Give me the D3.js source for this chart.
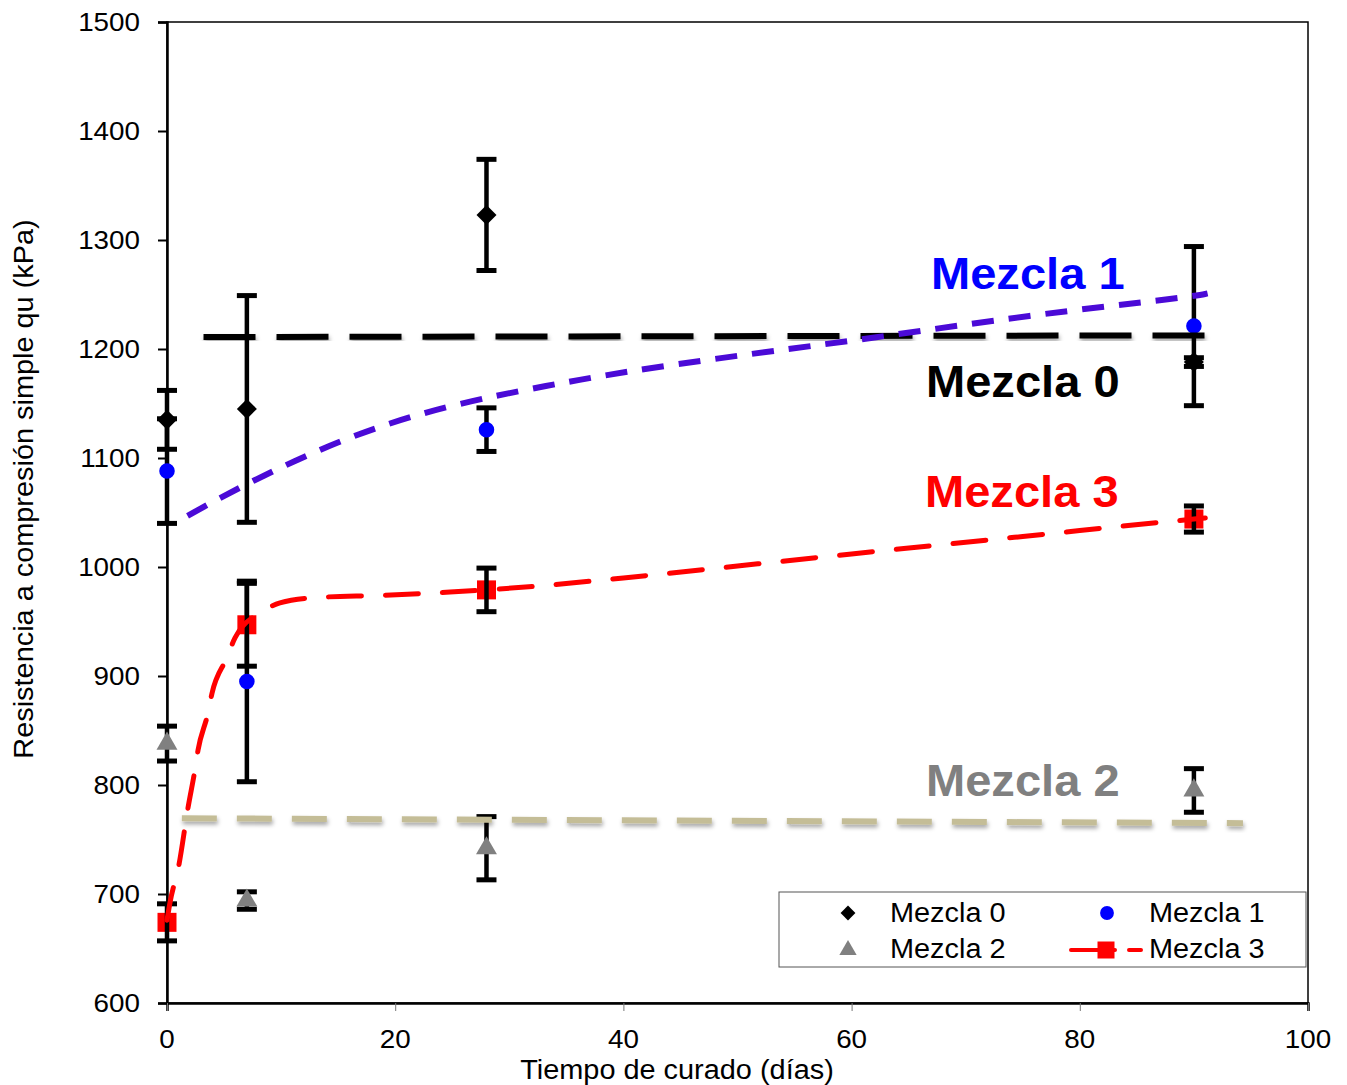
<!DOCTYPE html>
<html>
<head>
<meta charset="utf-8">
<script src="https://cdnjs.cloudflare.com/ajax/libs/d3/7.8.5/d3.min.js"></script>
<style>
  body { margin: 0; background: #fff; }
  svg text { font-family: "Liberation Sans", Arial, sans-serif; }
</style>
</head>
<body>
<svg id="chart" width="1347" height="1085"></svg>
<script>
// measured values (kPa) at each curing age
var days = [0, 7, 28, 90];
var mezcla0 = [1135, 1145, 1323, 1188];
var err0 = [27, 104, 51, 4];
var mezcla1 = [1088, 895, 1126, 1221];
var err1 = [48, 92, 20, 73];
var mezcla2 = [838, 694, 742, 795];
var err2 = [16, 8, 29, 20];
var mezcla3 = [674, 947, 979, 1044];
var err3 = [17, 38, 20, 12];

// trend lines, points [day, kPa]
var trend0 = [[3.2, 1211], [91.5, 1212.5]];
var trend1 = [[1.8, 1047], [7, 1077], [16, 1121], [24.8, 1149], [33.6, 1167], [40, 1179],
              [50, 1194], [61.9, 1210], [75.4, 1231], [89.9, 1248], [91.2, 1251]];
var trend2 = [[1.3, 769.5], [94.3, 765]];
var trend3 = [[0, 676], [0.26, 692], [1.05, 727], [1.84, 779], [2.45, 814], [2.72, 832],
              [3.59, 866], [3.94, 884], [5.26, 917], [5.96, 935], [8.33, 959], [9.9, 967],
              [13.1, 972], [18.9, 974], [24.8, 977], [33.6, 983.5], [40, 990], [60, 1012],
              [75, 1028], [90, 1044], [91, 1045]];

var xTicks = [0, 20, 40, 60, 80, 100];
var yTicks = [600, 700, 800, 900, 1000, 1100, 1200, 1300, 1400, 1500];

var svg = d3.select("#chart");
var x = d3.scaleLinear().domain([0, 100]).range([167, 1308]);
var y = d3.scaleLinear().domain([600, 1500]).range([1003, 22]);
var SX = 1.07; // the original text is a bit wider than the font

function stretchText(sel, px, py) {
    return sel.attr("transform", "translate(" + px + "," + py + ") scale(" + SX + ",1)");
}

// drop shadow for the black and tan lines
var defs = svg.append("defs");
defs.append("filter")
    .attr("id", "shadow")
    .attr("x", "-5%").attr("y", "-200%")
    .attr("width", "110%").attr("height", "500%")
    .append("feDropShadow")
    .attr("dx", 1).attr("dy", 3)
    .attr("stdDeviation", 2)
    .attr("flood-color", "#000")
    .attr("flood-opacity", 0.35);

// frame
svg.append("rect")
    .attr("x", x(0)).attr("y", y(1500))
    .attr("width", x(100) - x(0)).attr("height", y(600) - y(1500))
    .attr("fill", "none").attr("stroke", "#000").attr("stroke-width", 1.5);

// axes
var yAxis = d3.axisLeft(y).tickValues(yTicks).tickSize(9).tickPadding(18);
var gy = svg.append("g").attr("transform", "translate(" + x(0) + ",0)").call(yAxis);
gy.select(".domain").attr("stroke-width", 2.5);
gy.selectAll(".tick line").attr("stroke-width", 2);
gy.selectAll(".tick text").remove();
yTicks.forEach(function (t) {
    stretchText(svg.append("text"), 140, y(t) + 9)
        .attr("text-anchor", "end").attr("font-size", 26).text(t);
});

var xAxis = d3.axisBottom(x).tickValues(xTicks).tickSize(8);
var gx = svg.append("g").attr("transform", "translate(0," + y(600) + ")").call(xAxis);
gx.select(".domain").attr("stroke-width", 2.5);
gx.selectAll(".tick line").attr("stroke", "#777").attr("stroke-width", 1);
gx.selectAll(".tick text").remove();
xTicks.forEach(function (t) {
    stretchText(svg.append("text"), x(t), 1048)
        .attr("text-anchor", "middle").attr("font-size", 26).text(t);
});

stretchText(svg.append("text"), 677, 1079)
    .attr("text-anchor", "middle").attr("font-size", 27)
    .text("Tiempo de curado (días)");
svg.append("text")
    .attr("transform", "translate(33,489) rotate(-90) scale(" + SX + ",1)")
    .attr("text-anchor", "middle").attr("font-size", 27)
    .text("Resistencia a compresión simple qu (kPa)");

// error bars
function errorBars(vals, errs) {
    var g = svg.append("g").attr("stroke", "#000");
    days.forEach(function (d, i) {
        var lo = vals[i] - errs[i], hi = vals[i] + errs[i];
        g.append("line")
            .attr("x1", x(d)).attr("x2", x(d))
            .attr("y1", y(lo)).attr("y2", y(hi))
            .attr("stroke-width", 4.5);
        [lo, hi].forEach(function (v) {
            g.append("line")
                .attr("x1", x(d) - 10).attr("x2", x(d) + 10)
                .attr("y1", y(v)).attr("y2", y(v))
                .attr("stroke-width", 5);
        });
    });
}

function markers(vals, type, size, color, rot) {
    svg.append("g").selectAll("path")
        .data(days)
        .enter().append("path")
        .attr("d", d3.symbol().type(type).size(size))
        .attr("transform", function (d, i) {
            return "translate(" + x(d) + "," + y(vals[i]) + ") rotate(" + (rot || 0) + ")";
        })
        .attr("fill", color);
}

errorBars(mezcla0, err0);
markers(mezcla0, d3.symbolSquare, 200, "#000", 45);
errorBars(mezcla1, err1);
markers(mezcla1, d3.symbolCircle, 190, "#0000ff");
errorBars(mezcla2, err2);
markers(mezcla2, d3.symbolTriangle, 190, "#808080");
markers(mezcla3, d3.symbolSquare, 361, "#ff0000");
errorBars(mezcla3, err3);

// trend lines
var line = d3.line()
    .x(function (d) { return x(d[0]); })
    .y(function (d) { return y(d[1]); })
    .curve(d3.curveMonotoneX);
var smooth = d3.line()
    .x(function (d) { return x(d[0]); })
    .y(function (d) { return y(d[1]); })
    .curve(d3.curveBasis);

svg.append("path").datum(trend2).attr("d", line)
    .attr("fill", "none").attr("stroke", "#c4bd97").attr("stroke-width", 6)
    .attr("stroke-dasharray", "35 20").attr("filter", "url(#shadow)");
svg.append("path").datum(trend0).attr("d", line)
    .attr("fill", "none").attr("stroke", "#000").attr("stroke-width", 6)
    .attr("stroke-dasharray", "52 21").attr("filter", "url(#shadow)");
svg.append("path").datum(trend1).attr("d", smooth)
    .attr("fill", "none").attr("stroke", "#4b0ad7").attr("stroke-width", 6)
    .attr("stroke-dasharray", "22 15");
svg.append("path").datum(trend3).attr("d", line)
    .attr("fill", "none").attr("stroke", "#ff0000").attr("stroke-width", 5)
    .attr("stroke-linecap", "round").attr("stroke-dasharray", "33 24");

// series labels
var labels = [
    {text: "Mezcla 1", color: "#0000ff", x: 931, y: 289},
    {text: "Mezcla 0", color: "#000000", x: 926, y: 397},
    {text: "Mezcla 3", color: "#ff0000", x: 925, y: 507},
    {text: "Mezcla 2", color: "#808080", x: 926, y: 796}
];
labels.forEach(function (l) {
    stretchText(svg.append("text"), l.x, l.y)
        .attr("font-size", 44).attr("font-weight", "bold")
        .attr("fill", l.color).text(l.text);
});

// legend
var lg = svg.append("g");
lg.append("rect")
    .attr("x", 779).attr("y", 892).attr("width", 527).attr("height", 75)
    .attr("fill", "#fff").attr("stroke", "#555").attr("stroke-width", 1);
lg.append("path").attr("d", d3.symbol().type(d3.symbolSquare).size(110))
    .attr("transform", "translate(848,913) rotate(45)").attr("fill", "#000");
lg.append("path").attr("d", d3.symbol().type(d3.symbolCircle).size(150))
    .attr("transform", "translate(1107,913)").attr("fill", "#0000ff");
lg.append("path").attr("d", d3.symbol().type(d3.symbolTriangle).size(130))
    .attr("transform", "translate(848,950)").attr("fill", "#808080");
lg.append("line")
    .attr("x1", 1071).attr("x2", 1141).attr("y1", 950).attr("y2", 950)
    .attr("stroke", "#ff0000").attr("stroke-width", 4).attr("stroke-linecap", "round")
    .attr("stroke-dasharray", "44 14 12 100");
lg.append("path").attr("d", d3.symbol().type(d3.symbolSquare).size(289))
    .attr("transform", "translate(1106,950)").attr("fill", "#ff0000");
[["Mezcla 0", 890, 922], ["Mezcla 1", 1149, 922],
 ["Mezcla 2", 890, 958], ["Mezcla 3", 1149, 958]].forEach(function (e) {
    stretchText(lg.append("text"), e[1], e[2]).attr("font-size", 27).text(e[0]);
});
</script>
</body>
</html>
